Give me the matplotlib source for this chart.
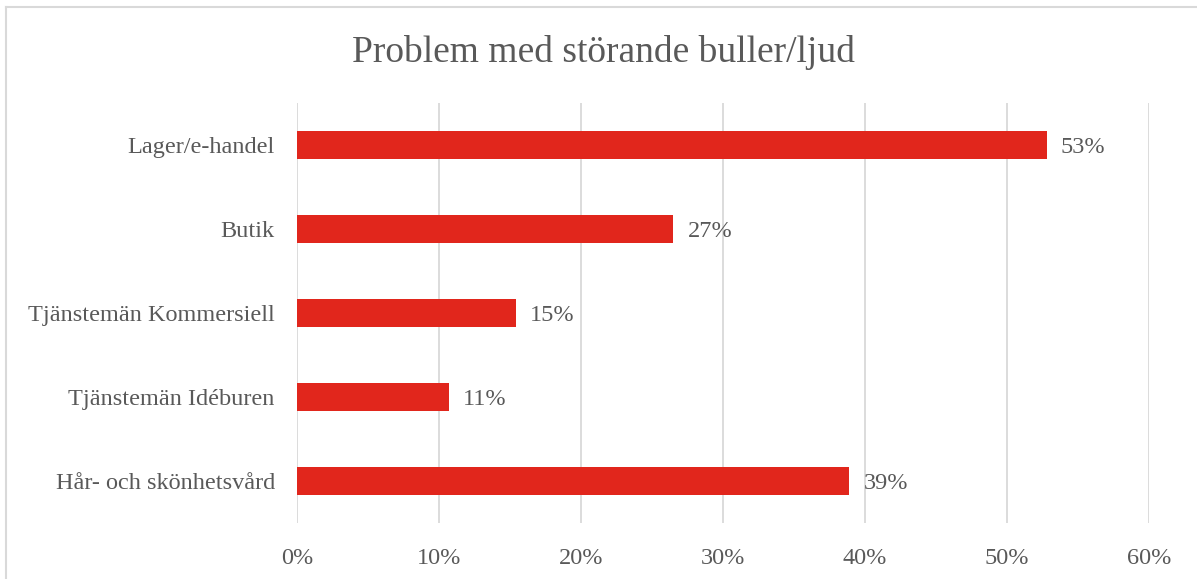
import numpy as np
import matplotlib
matplotlib.use('Agg')
import matplotlib.pyplot as plt
from matplotlib.lines import Line2D

categories = ['Lager/e-handel', 'Butik', 'Tjänstemän Kommersiell',
              'Tjänstemän Idéburen', 'Hår- och skönhetsvård']
values = [52.8, 26.5, 15.4, 10.7, 38.9]
labels = ['53%', '27%', '15%', '11%', '39%']
xticks = [0, 10, 20, 30, 40, 50, 60]

plt.rcParams['font.family'] = ['Liberation Serif', 'DejaVu Serif']
text_color = '#595959'
bar_color = '#E1261C'

fig = plt.figure(figsize=(11.97, 5.79), dpi=100)
W, H = 1197, 579
ax = fig.add_axes([297 / W, (H - 523) / H, (1149 - 297) / W, (523 - 103) / H])

y = np.arange(len(categories))
ax.barh(y, values, height=0.33, color=bar_color, zorder=3)
ax.set_ylim(len(categories) - 0.5, -0.5)
ax.set_xlim(0, 60)
ax.set_yticks(y)
ax.set_yticklabels(categories, fontsize=17.5, color=text_color, va='center_baseline')
ax.set_xticks(xticks)
ax.set_xticklabels([f'{t}%' for t in xticks], fontsize=17.5, color=text_color)
ax.tick_params(axis='both', length=0)
ax.tick_params(axis='y', pad=16)
ax.tick_params(axis='x', pad=18)
ax.grid(axis='x', color='#d9d9d9', linewidth=1.3, zorder=0)
for s in ax.spines.values():
    s.set_visible(False)

for yi, v, lab in zip(y, values, labels):
    ax.text(v + 1.0, yi, lab, va='center_baseline', ha='left', fontsize=17.5, color=text_color)

fig.text(603 / W, 1 - 52 / H, 'Problem med störande buller/ljud', ha='center', va='center',
         fontsize=27, color=text_color)

# outer border (top + left)
fig.add_artist(Line2D([6 / W, 1], [1 - 7 / H, 1 - 7 / H], transform=fig.transFigure,
                      color='#d9d9d9', linewidth=1.5))
fig.add_artist(Line2D([6 / W, 6 / W], [0, 1 - 7 / H], transform=fig.transFigure,
                      color='#d9d9d9', linewidth=1.5))

fig.savefig('out.png', dpi=100)
